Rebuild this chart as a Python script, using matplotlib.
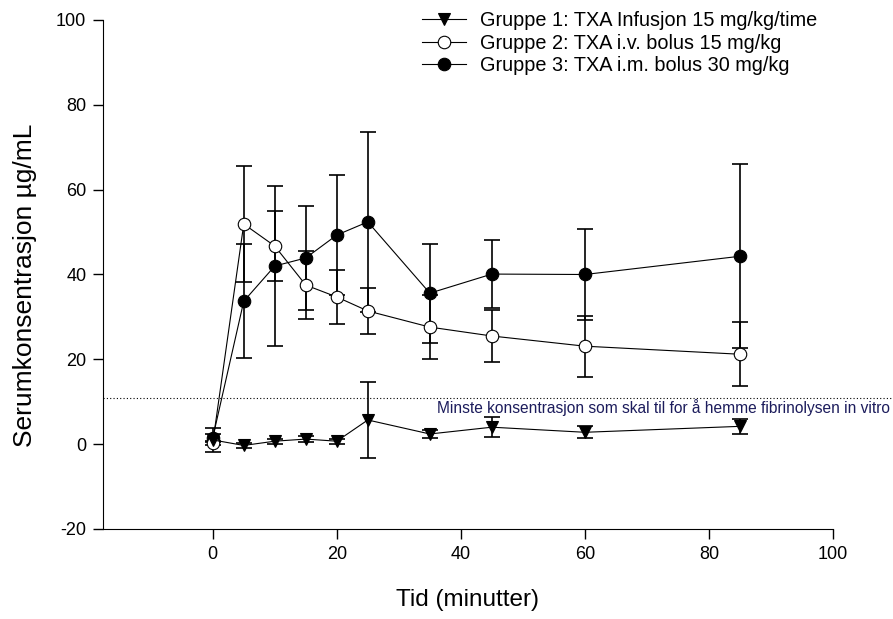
import matplotlib.pyplot as plt

plt.rcParams['font.family'] = ['Liberation Sans', 'DejaVu Sans']
plt.rcParams['axes.unicode_minus'] = False

tid = [0, 5, 10, 15, 20, 25, 35, 45, 60, 85]

g1_mean = [1.0, -0.3, 0.7, 1.2, 0.7, 5.7, 2.4, 4.0, 2.8, 4.2]
g1_sd = [2.8, 0.5, 0.6, 0.8, 0.6, 8.9, 1.0, 2.4, 1.4, 1.8]

g2_mean = [0.3, 51.9, 46.7, 37.5, 34.7, 31.4, 27.6, 25.5, 23.1, 21.2]
g2_sd = [0.5, 13.6, 8.3, 8.0, 6.3, 5.5, 7.6, 6.2, 7.2, 7.5]

g3_mean = [1.5, 33.7, 42.0, 43.9, 49.3, 52.4, 35.6, 40.1, 40.0, 44.3]
g3_sd = [1.0, 13.5, 18.8, 12.2, 14.1, 21.2, 11.7, 8.0, 10.7, 21.7]

labels = ['Gruppe 1: TXA Infusjon 15 mg/kg/time',
          'Gruppe 2: TXA i.v. bolus 15 mg/kg',
          'Gruppe 3: TXA i.m. bolus 30 mg/kg']

min_kons = 10.8

fig = plt.figure(figsize=(8.93, 6.19), dpi=100)
ax = fig.add_axes([0.1153, 0.1454, 0.8175, 0.8223])

for mean, sd, mk, fc, lab in [(g3_mean, g3_sd, 'o', 'black', labels[2]),
                               (g2_mean, g2_sd, 'o', 'white', labels[1]),
                               (g1_mean, g1_sd, 'v', 'black', labels[0])]:
    ax.errorbar(tid, mean, yerr=sd, fmt='none', ecolor='black',
                elinewidth=1.2, capsize=6, capthick=1.2, zorder=2)
    ax.plot(tid, mean, color='black', lw=0.8, marker=mk, markersize=9,
            markerfacecolor=fc, markeredgecolor='black', markeredgewidth=0.8,
            label=lab, zorder=3)

ax.plot([-17.7, 110], [min_kons, min_kons], ls=(0, (1, 2)), color='black',
        lw=0.8, clip_on=False, zorder=1)
ax.text(36.2, min_kons - 0.2, 'Minste konsentrasjon som skal til for å hemme fibrinolysen in vitro',
        fontsize=11.2, color='#1c1c5c', va='top', ha='left')

ax.set_xlim(-17.7, 100)
ax.set_ylim(-20, 100)
ax.set_xticks([0, 20, 40, 60, 80, 100])
ax.set_yticks([-20, 0, 20, 40, 60, 80, 100])
ax.tick_params(labelsize=13, length=7, width=1, pad=5)
ax.spines['top'].set_visible(False)
ax.spines['right'].set_visible(False)
ax.set_xlabel('Tid (minutter)', fontsize=17.5, labelpad=19)
ax.set_ylabel('Serumkonsentrasjon µg/mL', fontsize=19)
ax.yaxis.set_label_coords(-0.09, 0.478)

h, l = ax.get_legend_handles_labels()
ax.legend(h[::-1], l[::-1], loc='upper left', bbox_to_anchor=(0.412, 1.052),
          frameon=False, fontsize=14.3, handlelength=2.25, labelspacing=0.16,
          handletextpad=0.7)

fig.savefig('out.png', dpi=100)
